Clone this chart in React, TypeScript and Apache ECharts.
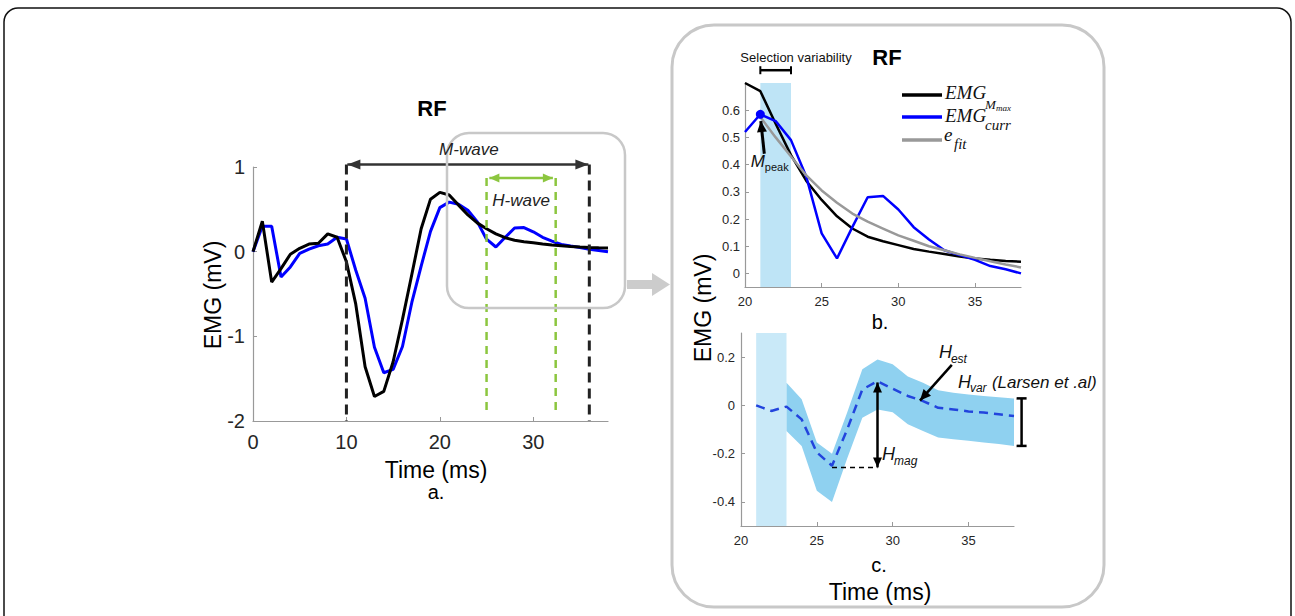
import React, { useEffect, useRef } from 'react';
import * as echarts from 'echarts';

// ---------- data ----------
const timeMs = [0,1,2,3,4,5,6,7,8,9,10,11,12,13,14,15,16,17,18,19,20,21,22,23,24,25,26,27,28,29,30,31,32,33,34,35,36,37,38];
const emgMmax = [0,0.36,-0.36,-0.2,-0.03,0.04,0.09,0.1,0.21,0.17,-0.12,-0.62,-1.36,-1.71,-1.65,-1.3,-0.8,-0.27,0.27,0.62,0.70,0.67,0.55,0.435,0.34,0.27,0.21,0.165,0.135,0.118,0.104,0.09,0.08,0.071,0.062,0.055,0.05,0.046,0.043];
const emgCurr = [0,0.30,0.30,-0.30,-0.18,-0.02,0.03,0.07,0.09,0.17,0.15,-0.22,-0.55,-1.13,-1.43,-1.39,-1.12,-0.6,-0.17,0.24,0.52,0.585,0.56,0.49,0.355,0.147,0.055,0.17,0.28,0.285,0.235,0.17,0.125,0.085,0.067,0.05,0.027,0.015,0.0];
const fitTime = [21,22,23,24,25,26,27,28,29,30,31,32,33,34,35,36,37,38];
const eFit = [0.575,0.50,0.43,0.36,0.305,0.26,0.22,0.19,0.165,0.14,0.12,0.10,0.085,0.07,0.057,0.045,0.033,0.022];
const hEstTime = [21,22,23,24,25,26,27,28,29,30,31,32,33,34,35,36,37,38];
const hEst = [0,-0.023,-0.005,-0.058,-0.195,-0.25,-0.1,0.066,0.1,0.069,0.039,0.018,-0.01,-0.017,-0.025,-0.03,-0.037,-0.044];
const bandTime = [23,24,25,26,27,28,29,30,31,32,33,34,35,36,37,38];
const bandUpper = [0.094,0.025,-0.154,-0.2,-0.03,0.15,0.19,0.17,0.12,0.094,0.063,0.052,0.045,0.039,0.034,0.029];
const bandLower = [-0.106,-0.168,-0.354,-0.4,-0.22,-0.051,-0.017,-0.028,-0.078,-0.106,-0.133,-0.14,-0.147,-0.154,-0.16,-0.168];
const selectionWindow = [21, 23];
const mWaveWindow = [10, 36];
const hWaveWindow = [25, 32.4];
const mPeak = [21, 0.585];
const leftXTicks = [0, 10, 20, 30];
const leftYTicks = [-2, -1, 0, 1];
const rightXTicks = [20, 25, 30, 35];
const topYTicks = [0, 0.1, 0.2, 0.3, 0.4, 0.5, 0.6];
const bottomYTicks = [-0.4, -0.2, 0, 0.2];

const SANS = "'Liberation Sans', Arial, Helvetica, sans-serif";
const SERIF = "'Liberation Serif', 'Times New Roman', serif";

const pairs = (xs: number[], ys: number[]) => xs.map((x, i) => [x, ys[i]]);

function axisX(grid: number, min: number, max: number, ticks: number[], fs: number, margin: number) {
  return {
    gridIndex: grid, type: 'value', min, max,
    axisLine: { onZero: false, lineStyle: { color: '#999', width: 1.2 } },
    axisTick: { inside: true, length: 4, customValues: ticks, lineStyle: { color: '#999' } },
    axisLabel: { customValues: ticks, fontSize: fs, color: '#262626', margin, fontFamily: SANS },
    splitLine: { show: false },
  };
}
function axisY(grid: number, min: number, max: number, ticks: number[], fs: number, margin: number) {
  return {
    gridIndex: grid, type: 'value', min, max,
    axisLine: { show: true, onZero: false, lineStyle: { color: '#999', width: 1.2 } },
    axisTick: { show: true, inside: true, length: 4, customValues: ticks, lineStyle: { color: '#999' } },
    axisLabel: { customValues: ticks, fontSize: fs, color: '#262626', margin, fontFamily: SANS },
    splitLine: { show: false },
  };
}

function buildOption() {
  const right = timeMs.map((t, i) => i).filter(i => timeMs[i] >= 20);
  return {
    animation: false,
    grid: [
      { left: 253, top: 167, width: 355, height: 254 },
      { left: 745, top: 83, width: 276, height: 204 },
      { left: 741, top: 333, width: 273, height: 193 },
    ],
    xAxis: [
      axisX(0, 0, 38, leftXTicks, 20, 11),
      axisX(1, 20, 38, rightXTicks, 13, 8),
      axisX(2, 20, 38, rightXTicks, 13, 8),
    ],
    yAxis: [
      axisY(0, -2, 1, leftYTicks, 20, 8),
      axisY(1, -0.05, 0.7, topYTicks, 13, 5),
      axisY(2, -0.5, 0.3, bottomYTicks, 13, 6),
    ],
    series: [
      { type: 'line', xAxisIndex: 0, yAxisIndex: 0, data: pairs(timeMs, emgCurr), symbol: 'none', lineStyle: { color: '#0000ff', width: 3 }, z: 2 },
      { type: 'line', xAxisIndex: 0, yAxisIndex: 0, data: pairs(timeMs, emgMmax), symbol: 'none', lineStyle: { color: '#000', width: 3 }, z: 3 },
      { type: 'line', xAxisIndex: 1, yAxisIndex: 1, data: right.map(i => [timeMs[i], emgMmax[i]]), symbol: 'none', lineStyle: { color: '#000', width: 2.5 }, z: 2 },
      { type: 'line', xAxisIndex: 1, yAxisIndex: 1, data: right.map(i => [timeMs[i], emgCurr[i]]), symbol: 'none', lineStyle: { color: '#0000ff', width: 2.5 }, z: 3,
        markPoint: { symbol: 'circle', symbolSize: 9, itemStyle: { color: '#0000ff' }, label: { show: false }, data: [{ coord: mPeak }] } },
      { type: 'line', xAxisIndex: 1, yAxisIndex: 1, data: pairs(fitTime, eFit), symbol: 'none', lineStyle: { color: '#999', width: 2.5 }, z: 4 },
      { type: 'line', xAxisIndex: 1, yAxisIndex: 1, data: [[21, 0]], symbol: 'none', lineStyle: { opacity: 0 }, z: 6,
        markArea: { silent: true, itemStyle: { color: 'rgba(110,196,236,0.45)' }, data: [[{ xAxis: selectionWindow[0] }, { xAxis: selectionWindow[1] }]] } },
      { type: 'line', xAxisIndex: 2, yAxisIndex: 2, data: [[21, 0]], symbol: 'none', lineStyle: { opacity: 0 }, z: 1,
        markArea: { silent: true, itemStyle: { color: '#c9e9f8' }, data: [[{ xAxis: selectionWindow[0] }, { xAxis: selectionWindow[1] }]] } },
      { type: 'custom', xAxisIndex: 2, yAxisIndex: 2, z: 2, data: [[30, 0]], silent: true,
        renderItem: (params: any, api: any) => {
          const up = bandTime.map((t, i) => api.coord([t, bandUpper[i]]));
          const lo = bandTime.map((t, i) => api.coord([t, bandLower[i]])).reverse();
          return { type: 'polygon', shape: { points: up.concat(lo) }, style: { fill: '#8fd1f0' } };
        } },
      { type: 'line', xAxisIndex: 2, yAxisIndex: 2, data: pairs(hEstTime, hEst), symbol: 'none', lineStyle: { color: '#2244dd', width: 2.5, type: [9, 6] }, z: 3 },
    ],
  };
}

function buildGraphics(chart: any) {
  const p = (g: number, x: number, y: number): number[] => chart.convertToPixel({ gridIndex: g }, [x, y]);
  const g: any[] = [];
  const line = (a: number[], b: number[], stroke: string, lw: number, dash?: number[], z = 50) =>
    g.push({ type: 'line', silent: true, z, shape: { x1: a[0], y1: a[1], x2: b[0], y2: b[1] }, style: { stroke, lineWidth: lw, lineDash: dash, fill: null } });
  const head = (tip: number[], from: number[], color: string, len = 11, half = 4.5) => {
    const dx = tip[0] - from[0], dy = tip[1] - from[1]; const d = Math.hypot(dx, dy);
    const ux = dx / d, uy = dy / d; const bx = tip[0] - ux * len, by = tip[1] - uy * len;
    g.push({ type: 'polygon', silent: true, z: 51, shape: { points: [tip, [bx - uy * half, by + ux * half], [bx + uy * half, by - ux * half]] }, style: { fill: color } });
  };
  const text = (x: number, y: number, t: string, o: any = {}) =>
    g.push({ type: 'text', silent: true, z: 60, x, y, rotation: o.rotation || 0,
      style: { text: t, fontSize: o.fs || 14, lineHeight: o.lh, fontFamily: o.ff || SANS, fontStyle: o.it ? 'italic' : 'normal', fontWeight: o.bold ? 'bold' : 'normal', fill: o.fill || '#111', align: o.align || 'center', verticalAlign: o.va || 'middle' } });

  // outer frame & panel boxes
  g.push({ type: 'rect', silent: true, z: 40, shape: { x: 4, y: 8, width: 1287, height: 660, r: 14 }, style: { fill: 'none', stroke: '#111', lineWidth: 1.5 } });
  g.push({ type: 'rect', silent: true, z: 40, shape: { x: 672, y: 25, width: 432, height: 582, r: 42 }, style: { fill: 'none', stroke: '#c8c8c8', lineWidth: 3 } });
  g.push({ type: 'rect', silent: true, z: 55, shape: { x: 447, y: 133, width: 178, height: 175, r: 22 }, style: { fill: 'none', stroke: '#c8c8c8', lineWidth: 2.5 } });
  // connecting arrow
  g.push({ type: 'rect', silent: true, z: 40, shape: { x: 627, y: 280, width: 27, height: 9 }, style: { fill: '#cccccc' } });
  g.push({ type: 'polygon', silent: true, z: 40, shape: { points: [[652, 273], [670, 284.5], [652, 296]] }, style: { fill: '#cccccc' } });

  // ---- left panel ----
  text(432, 108, 'RF', { fs: 22, bold: true, fill: '#000' });
  text(213, 295, 'EMG (mV)', { fs: 23, rotation: Math.PI / 2, fill: '#000' });
  text(436, 470, 'Time (ms)', { fs: 23, fill: '#000' });
  text(436, 492, 'a.', { fs: 20, fill: '#000' });
  for (const x of mWaveWindow) line(p(0, x, 1.03), p(0, x, -2), '#222', 3, [10, 6]);
  const ma = p(0, mWaveWindow[0] + 0.1, 1.03), mb = p(0, mWaveWindow[1] - 0.1, 1.03);
  line(ma, mb, '#333', 2.5);
  head(ma, mb, '#333', 13, 5); head(mb, ma, '#333', 13, 5);
  text((ma[0] + mb[0]) / 2 + 1, ma[1] - 15, 'M-wave', { fs: 17, it: true, fill: '#222' });
  for (const x of hWaveWindow) line(p(0, x, 0.87), p(0, x, -1.9), '#8cc63f', 2.5, [8, 6]);
  const ha = p(0, hWaveWindow[0] + 0.3, 0.87), hb = p(0, hWaveWindow[1] - 0.3, 0.87);
  line(ha, hb, '#8cc63f', 2.5);
  head(ha, hb, '#8cc63f', 10, 4.5); head(hb, ha, '#8cc63f', 10, 4.5);
  const hw = p(0, (hWaveWindow[0] + hWaveWindow[1]) / 2, 0.6);
  text(hw[0], hw[1], 'H-wave', { fs: 17, it: true, fill: '#222' });

  // ---- top right panel ----
  text(887, 57, 'RF', { fs: 22, bold: true, fill: '#000' });
  text(796, 57, 'Selection variability', { fs: 13, fill: '#111' });
  const sa = p(1, selectionWindow[0], 0.747), sb = p(1, selectionWindow[1], 0.747);
  line(sa, sb, '#000', 2.5);
  line([sa[0], sa[1] - 4], [sa[0], sa[1] + 4], '#000', 2);
  line([sb[0], sb[1] - 4], [sb[0], sb[1] + 4], '#000', 2);
  const pa = p(1, 21.26, 0.44), pb = p(1, 21.03, 0.56);
  line(pa, pb, '#000', 3);
  head(pb, pa, '#000', 11, 5);
  const mp = p(1, 20.38, 0.41);
  text(mp[0], mp[1], 'M', { fs: 17, it: true, align: 'left', fill: '#111' });
  text(mp[0] + 14, mp[1] + 5, 'peak', { fs: 11, align: 'left', fill: '#111' });
  // legend
  const lg = [
    { y: 95, c: '#000' }, { y: 117, c: '#0000ff' }, { y: 140, c: '#999' },
  ];
  lg.forEach(l => line([902, l.y], [942, l.y], l.c, 3.5));
  text(945, 92, 'EMG', { fs: 19, lh: 15, it: true, ff: SERIF, align: 'left', fill: '#111' });
  text(985, 104, 'M', { fs: 13, lh: 10, it: true, ff: SERIF, align: 'left', fill: '#111' });
  text(996, 108, 'max', { fs: 9, lh: 7, it: true, ff: SERIF, align: 'left', fill: '#111' });
  text(945, 115, 'EMG', { fs: 19, lh: 15, it: true, ff: SERIF, align: 'left', fill: '#111' });
  text(985, 125, 'curr', { fs: 15, lh: 10, it: true, ff: SERIF, align: 'left', fill: '#111' });
  text(944, 134, 'e', { fs: 19, lh: 10, it: true, ff: SERIF, align: 'left', fill: '#111' });
  text(954, 144, 'fit', { fs: 15, lh: 12, it: true, ff: SERIF, align: 'left', fill: '#111' });
  text(880, 322, 'b.', { fs: 20, fill: '#000' });
  text(703, 308, 'EMG (mV)', { fs: 23, rotation: Math.PI / 2, fill: '#000' });

  // ---- bottom right panel ----
  text(879, 565, 'c.', { fs: 20, fill: '#000' });
  text(880, 592, 'Time (ms)', { fs: 23, fill: '#000' });
  const hm1 = p(2, 29, 0.095), hm2 = p(2, 29, -0.257);
  line(hm1, hm2, '#000', 2.5);
  head(hm1, hm2, '#000', 10, 4.5); head(hm2, hm1, '#000', 10, 4.5);
  line(p(2, 26, -0.257), p(2, 29, -0.257), '#000', 1.5, [5, 4]);
  const hmt = p(2, 29.3, -0.2);
  text(hmt[0], hmt[1], 'H', { fs: 18, it: true, align: 'left', fill: '#111' });
  text(hmt[0] + 12, hmt[1] + 7, 'mag', { fs: 12, it: true, align: 'left', fill: '#111' });
  const ht = p(2, 33.05, 0.222);
  text(ht[0], ht[1], 'H', { fs: 18, it: true, align: 'left', fill: '#111' });
  text(ht[0] + 12, ht[1] + 7, 'est', { fs: 12, it: true, align: 'left', fill: '#111' });
  const ea = p(2, 33.9, 0.168), eb = p(2, 31.8, 0.02);
  line(ea, eb, '#000', 2.5);
  head(eb, ea, '#000', 11, 5);
  const hv = p(2, 34.3, 0.095);
  text(hv[0], hv[1], 'H', { fs: 18, it: true, align: 'left', fill: '#111' });
  text(hv[0] + 12, hv[1] + 6, 'var', { fs: 12, it: true, align: 'left', fill: '#111' });
  text(hv[0] + 34, hv[1], '(Larsen et .al)', { fs: 17, it: true, align: 'left', fill: '#111' });
  const last = bandTime.length - 1;
  const v1 = p(2, 38.5, bandUpper[last]), v2 = p(2, 38.5, bandLower[last]);
  line(v1, v2, '#000', 2.5);
  line([v1[0] - 5, v1[1]], [v1[0] + 5, v1[1]], '#000', 2.5);
  line([v2[0] - 5, v2[1]], [v2[0] + 5, v2[1]], '#000', 2.5);
  return g;
}

export default function App() {
  const ref = useRef<HTMLDivElement>(null);
  useEffect(() => {
    const chart = echarts.init(ref.current!, null, { renderer: 'svg' });
    chart.setOption(buildOption());
    chart.setOption({ graphic: buildGraphics(chart) });
    return () => chart.dispose();
  }, []);
  return <div ref={ref} style={{ position: 'absolute', left: 0, top: 0, width: 1295, height: 616, background: '#fff' }} />;
}
